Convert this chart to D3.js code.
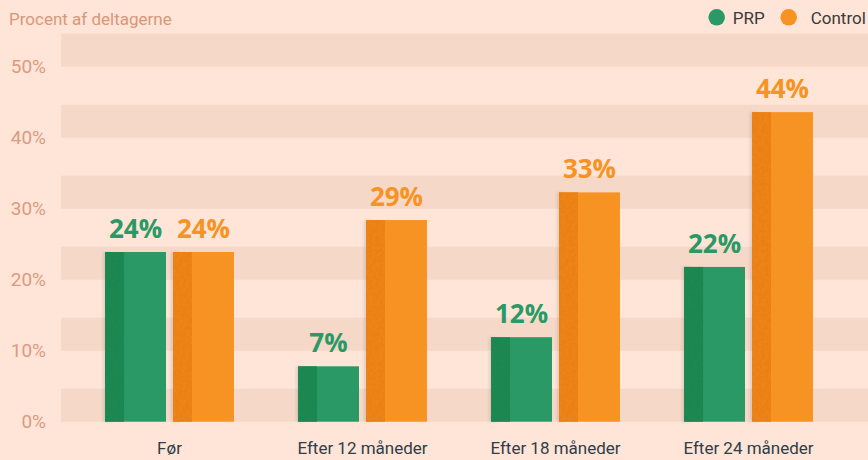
<!DOCTYPE html>
<html>
<head>
<meta charset="utf-8">
<script src="https://cdn.jsdelivr.net/npm/d3@7"></script>
<style>
  html, body { margin: 0; padding: 0; background: #fee5d8; }
  svg { display: block; }
</style>
</head>
<body>
<div id="chart"></div>
<script>
const WIDTH = 868;
const HEIGHT = 460;

// data
const categories = ["Før", "Efter 12 måneder", "Efter 18 måneder", "Efter 24 måneder"];
const seriesNames = ["PRP", "Control"];
const prpValues = [23.9, 7.8, 11.9, 21.8];
const controlValues = [23.9, 28.4, 32.3, 43.6];
const prpLabels = ["24%", "7%", "12%", "22%"];
const controlLabels = ["24%", "29%", "33%", "44%"];
const yTicks = [0, 10, 20, 30, 40, 50];

const colors = { PRP: "#2a9966", Control: "#f69322" };
const darkColors = { PRP: "#248c55", Control: "#f3861c" };

const rows = categories.map((c, i) => ({
  cat: c,
  bars: [
    { key: "PRP", value: prpValues[i], label: prpLabels[i] },
    { key: "Control", value: controlValues[i], label: controlLabels[i] }
  ]
}));

const svg = d3.select("#chart").append("svg")
    .attr("width", WIDTH)
    .attr("height", HEIGHT);

// texture for the darker strip on the left of each bar
const defs = svg.append("defs");
const noise = defs.append("filter").attr("id", "grain")
    .attr("x", 0).attr("y", 0).attr("width", 1).attr("height", 1);
noise.append("feTurbulence").attr("type", "fractalNoise")
    .attr("baseFrequency", 0.3).attr("numOctaves", 2).attr("result", "n");
noise.append("feColorMatrix").attr("in", "n").attr("type", "matrix")
    .attr("values", "0 0 0 0 0  0 0 0 0 0  0 0 0 0 0  0 0 0 0.12 0").attr("result", "a");
noise.append("feComposite").attr("in", "a").attr("in2", "SourceGraphic").attr("operator", "in").attr("result", "g");
const merge = noise.append("feMerge");
merge.append("feMergeNode").attr("in", "SourceGraphic");
merge.append("feMergeNode").attr("in", "g");

defs.append("filter").attr("id", "soft")
    .attr("x", "-50%").attr("y", "-5%").attr("width", "200%").attr("height", "110%")
  .append("feGaussianBlur").attr("stdDeviation", 1.5);

// scales
const y = d3.scaleLinear().domain([0, 50]).range([421.7, 66.7]);
const x0 = d3.scaleBand().domain(categories).range([73, 845])
    .paddingInner(0.332).paddingOuter(0.166);
const x1 = d3.scaleBand().domain(seriesNames).range([0, x0.bandwidth()])
    .paddingInner(0.103);

// horizontal bands
svg.append("g").classed("bands", true)
  .selectAll("rect").data(yTicks).enter()
  .append("rect")
    .attr("x", 61)
    .attr("width", WIDTH - 61)
    .attr("y", d => y(d + 4.65))
    .attr("height", d => y(d) - y(d + 4.65))
    .attr("fill", "#f6d8c8");

// y axis labels
const yAxis = d3.axisLeft(y).tickValues(yTicks).tickSize(0).tickPadding(0)
    .tickFormat(d => d + "%");
const yG = svg.append("g")
    .attr("transform", "translate(46,0)")
    .call(yAxis);
yG.select(".domain").remove();
yG.selectAll("text")
    .attr("fill", "#dc9a80")
    .style("font-family", "Roboto, sans-serif")
    .style("font-size", "19px");

// y title
svg.append("text")
    .attr("x", 9)
    .attr("y", 25)
    .attr("fill", "#d99779")
    .style("font-family", "Roboto, sans-serif")
    .style("font-size", "17px")
    .text("Procent af deltagerne");

// bars
const groups = svg.append("g").classed("bars", true)
  .selectAll("g").data(rows).enter()
  .append("g")
    .attr("transform", d => `translate(${x0(d.cat)},0)`);

const bar = groups.selectAll("g.bar").data(d => d.bars).enter()
  .append("g").classed("bar", true)
    .attr("transform", d => `translate(${x1(d.key)},0)`);

// soft shadow on the left edge
bar.append("rect")
    .attr("x", -2)
    .attr("width", 8)
    .attr("y", d => y(d.value))
    .attr("height", d => y(0) - y(d.value))
    .attr("fill", "#000")
    .attr("opacity", 0.1)
    .attr("filter", "url(#soft)");

bar.append("rect")
    .attr("x", 0)
    .attr("width", x1.bandwidth())
    .attr("y", d => y(d.value))
    .attr("height", d => y(0) - y(d.value))
    .attr("fill", d => colors[d.key]);

bar.append("rect")
    .attr("x", 0)
    .attr("width", 19)
    .attr("y", d => y(d.value))
    .attr("height", d => y(0) - y(d.value))
    .attr("fill", d => darkColors[d.key])
    .attr("filter", "url(#grain)");

// value labels
bar.append("text")
    .attr("x", x1.bandwidth() / 2)
    .attr("y", d => y(d.value) - 14)
    .attr("text-anchor", "middle")
    .attr("fill", d => colors[d.key])
    .style("font-family", "'Open Sans', sans-serif")
    .style("font-weight", 700)
    .style("font-size", "26px")
    .text(d => d.label);

// category labels
const xAxis = d3.axisBottom(x0).tickSize(0).tickPadding(0);
const xG = svg.append("g")
    .attr("transform", "translate(0,442)")
    .call(xAxis);
xG.select(".domain").remove();
xG.selectAll("text")
    .attr("fill", "#2f3d48")
    .style("font-family", "Roboto, sans-serif")
    .style("font-size", "17px");

// legend
const legend = svg.append("g").classed("legend", true);
const legendX = [716.7, 788.7];
seriesNames.forEach((s, i) => {
  legend.append("circle")
      .attr("cx", legendX[i])
      .attr("cy", 17.3)
      .attr("r", 8.3)
      .attr("fill", colors[s]);
  legend.append("text")
      .attr("x", legendX[i] + (i === 0 ? 16 : 22))
      .attr("y", 24)
      .attr("fill", "#3a3a3a")
      .style("font-family", "Roboto, sans-serif")
      .style("font-size", "17px")
      .text(s);
});
</script>
</body>
</html>
